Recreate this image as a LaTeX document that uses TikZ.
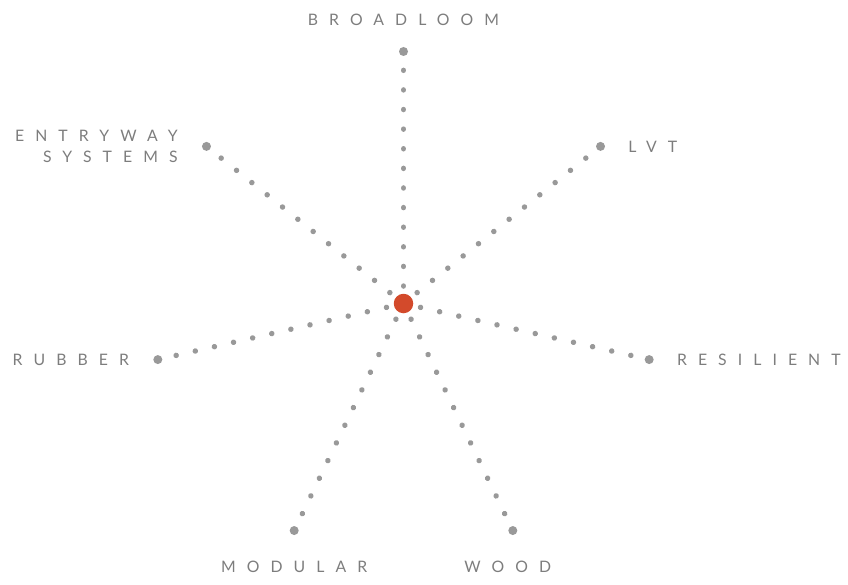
\documentclass[tikz,border=0pt]{standalone}
\usepackage{fontspec}
\usepackage{tikz}
\usetikzlibrary{positioning}
\newfontfamily\spacedfont[LetterSpace=70]{Lato}
\definecolor{dotgray}{RGB}{153,153,153}
\definecolor{textgray}{RGB}{125,125,125}
\definecolor{hubred}{RGB}{211,74,43}

\begin{document}
\begin{tikzpicture}[
    x=1pt, y=1pt,
    hubdot/.style={circle, fill=hubred, inner sep=0pt, minimum size=19.5pt},
    enddot/.style={circle, fill=dotgray, inner sep=0pt, minimum size=9pt},
    spoke/.style={dotgray, line width=5.5pt, line cap=round,
                  dash pattern=on 0.01pt off 19.6pt, dash phase=12.1pt},
    lbl/.style={text=textgray, inner sep=0pt, align=center,
                font=\spacedfont\fontsize{15.8}{20.5}\selectfont}
]
    \useasboundingbox (-403.5,-280.5) rectangle (444.5,303.5);

    \node[hubdot] (hub) at (0,0) {};
    \foreach \a [count=\i] in {90, 38.57, -12.86, -64.29, -115.71, -167.14, 141.43}
        \node[enddot] (e\i) at (\a:252) {};

    \foreach \i in {1,...,7}
        \draw[spoke] (hub) -- (e\i);

    \node[lbl, above=21pt of e1] (broadloom) {BROADLOOM};
    \node[lbl, right=23pt of e2] (lvt) {LVT};
    \node[lbl, right=23pt of e3] (resilient) {RESILIENT};
    \node[lbl, below=25.5pt of e4, xshift=-5pt] (wood) {WOOD};
    \node[lbl, below=25.5pt of e5] (modular) {MODULAR};
    \node[lbl, left=24pt of e6] (rubber) {RUBBER};
    \node[lbl, left=24pt of e7, align=right] (entryway) {ENTRYWAY\\SYSTEMS};
\end{tikzpicture}
\end{document}
